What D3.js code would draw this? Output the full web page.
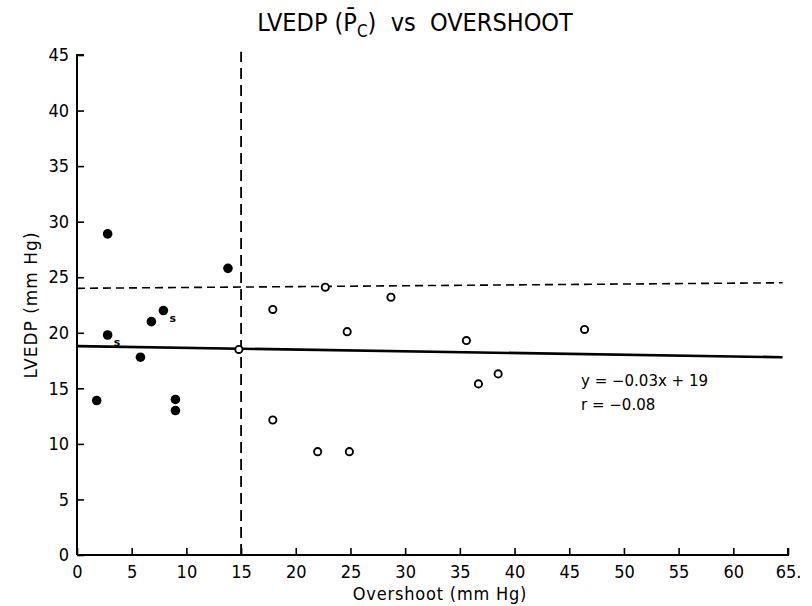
<!DOCTYPE html>
<html><head><meta charset="utf-8">
<script src="https://cdn.jsdelivr.net/npm/d3@7/dist/d3.min.js"></script>
<style>
body{margin:0;background:#fff;}
text{fill:#000;}
</style></head>
<body>
<svg id="c" width="812" height="606"></svg>
<script>
// Data
const filledPoints = [
  {x:2.8,y:28.9},{x:1.8,y:13.9},{x:2.8,y:19.8,s:true},{x:5.8,y:17.8},
  {x:6.8,y:21.0},{x:7.9,y:22.0,s:true},{x:9.0,y:14.0},{x:9.0,y:13.0},{x:13.8,y:25.8}
];
const openPoints = [
  {x:14.8,y:18.5},{x:17.9,y:22.1},{x:17.9,y:12.15},{x:22.7,y:24.1},{x:28.7,y:23.2},
  {x:24.7,y:20.1},{x:35.6,y:19.3},{x:46.4,y:20.3},{x:38.5,y:16.3},{x:36.7,y:15.4},
  {x:22.0,y:9.3},{x:24.9,y:9.3}
];
const regressionLine = [[0,18.8],[64.5,17.8]];
const thresholdH = [[0,24.0],[64.5,24.5]];
const thresholdV = [[15,0],[15,45.3]];
const xTicks = [0,5,10,15,20,25,30,35,40,45,50,55,60,65];
const xTickLabels = ["0","5","10","15","20","25","30","35","40","45","50","55","60","65."];
const yTicks = [0,5,10,15,20,25,30,35,40,45];
const yTickLabels = ["0","5","10","15","20","25","30","35","40","45"];
const titleText = "LVEDP (P\u0304";
const equationText = "y = \u22120.03x + 19";
const rText = "r = \u22120.08";

const svg = d3.select("#c");
const font = "'DejaVu Sans Condensed','Liberation Sans Narrow',sans-serif";
const x = d3.scaleLinear().domain([0,65]).range([77,788]);
const y = d3.scaleLinear().domain([0,45]).range([555,55]);

// axes
const xAxis = d3.axisBottom(x).tickValues(xTicks).tickSize(-7).tickPadding(10)
  .tickFormat((d,i)=>xTickLabels[i]);
const gx = svg.append("g").attr("transform",`translate(0,${y(0)})`).call(xAxis);
const yAxis = d3.axisLeft(y).tickValues(yTicks).tickSize(-7).tickPadding(8)
  .tickFormat((d,i)=>yTickLabels[i]);
const gy = svg.append("g").attr("transform",`translate(${x(0)},0)`).call(yAxis);
[gx,gy].forEach(g=>{
  g.select(".domain").attr("stroke","#000").attr("stroke-width",2);
  g.selectAll(".tick line").attr("stroke","#000").attr("stroke-width",1.6);
  g.selectAll(".tick text").attr("font-family",font).attr("font-size",18).attr("fill","#000");
});
gx.select(".domain").attr("d",`M${x(0)},0H${x(65)}V-7`);
gy.select(".domain").attr("d",`M7,${y(45)}H0V${y(0)}`);

const line = d3.line().x(d=>x(d[0])).y(d=>y(d[1]));
svg.append("path").datum(thresholdV).attr("d",line).attr("stroke","#000")
  .attr("stroke-width",1.8).attr("stroke-dasharray","11,6").attr("fill","none");
svg.append("path").datum(thresholdH).attr("d",line).attr("stroke","#000")
  .attr("stroke-width",1.6).attr("stroke-dasharray","8,5").attr("fill","none");
svg.append("path").datum(regressionLine).attr("d",line).attr("stroke","#000")
  .attr("stroke-width",2.6).attr("fill","none");

svg.selectAll(".f").data(filledPoints).enter().append("circle")
  .attr("cx",d=>x(d.x)).attr("cy",d=>y(d.y)).attr("r",4.8).attr("fill","#000");
svg.selectAll(".o").data(openPoints).enter().append("circle")
  .attr("cx",d=>x(d.x)).attr("cy",d=>y(d.y)).attr("r",3.6)
  .attr("fill","#fff").attr("stroke","#000").attr("stroke-width",1.9);
svg.selectAll(".s").data(filledPoints.filter(d=>d.s)).enter().append("text")
  .attr("x",d=>x(d.x)+6).attr("y",d=>y(d.y)+11).attr("font-family","'DejaVu Sans',sans-serif")
  .attr("font-weight","bold").attr("font-size",11).text("s");

// title
const t = svg.append("text").attr("x",415).attr("y",31).attr("text-anchor","middle")
  .attr("font-family",font).attr("font-size",25).attr("font-weight",500);
t.append("tspan").text(titleText);
t.append("tspan").attr("font-size",17).attr("dy",6).text("C");
t.append("tspan").attr("dy",-6).text(")\u00a0\u00a0vs\u00a0\u00a0OVERSHOOT");

// axis labels
svg.append("text").attr("x",440).attr("y",600).attr("text-anchor","middle")
  .attr("font-family",font).attr("font-size",18).attr("letter-spacing",0.8)
  .text("Overshoot (mm Hg)");
svg.append("text").attr("transform","translate(37,305) rotate(-90)").attr("text-anchor","middle")
  .attr("font-family","'DejaVu Sans',sans-serif").attr("font-size",17).attr("letter-spacing",1)
  .text("LVEDP (mm Hg)");

// annotation
svg.append("text").attr("x",581).attr("y",386).attr("font-family","'DejaVu Sans',sans-serif")
  .attr("font-size",15).text(equationText);
svg.append("text").attr("x",581).attr("y",410).attr("font-family","'DejaVu Sans',sans-serif")
  .attr("font-size",15).text(rText);
</script>
</body></html>
